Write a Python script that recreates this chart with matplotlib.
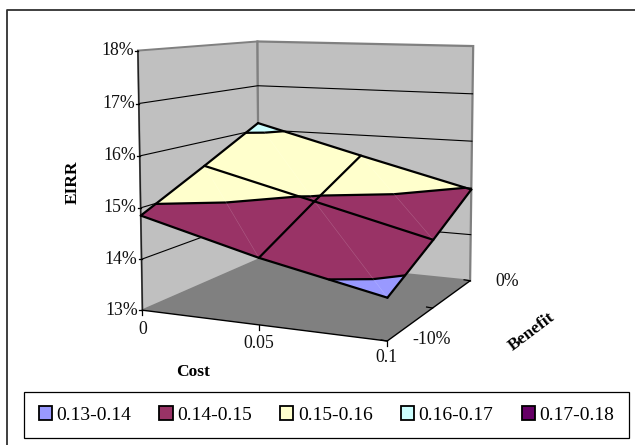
import numpy as np
import matplotlib
matplotlib.use("Agg")
import matplotlib.pyplot as plt
import matplotlib.tri as mtri
from matplotlib.patches import Polygon, Patch

plt.rcParams['font.family'] = ['Liberation Serif', 'DejaVu Serif']

# --- data -------------------------------------------------------------
cost = [0.0, 0.05, 0.1]
benefit = [-10.0, -5.0, 0.0]
# eirr[cost index][benefit index], percent
eirr = [[14.85, 15.49, 16.15],
        [14.26, 14.92, 15.55],
        [13.78, 14.35, 14.97]]
z_ticks = [13, 14, 15, 16, 17, 18]
z_labels = ['13%', '14%', '15%', '16%', '17%', '18%']
cost_labels = ['0', '0.05', '0.1']
legend_labels = ['0.13-0.14', '0.14-0.15', '0.15-0.16', '0.16-0.17', '0.17-0.18']
band_colors = ['#9999FF', '#993366', '#FFFFCC', '#CCFFFF', '#660066']

# --- camera: pinhole projection fitted to the box corners of the plot ---
box_world = np.array([[0, 0, 0], [0, 0, 1], [0, 1, 1], [0, 1, 0],
                      [1, 1, 0], [1, 1, 1], [1, 0, 0]], float)
box_pixel = np.array([[143.3, 311.7], [137.5, 50.0], [258.0, 42.0], [258.0, 258.0],
                      [470.7, 281.7], [473.0, 46.0], [386.7, 340.0]])
rows, rhs = [], []
for (a, b, c), (px, py) in zip(box_world, box_pixel):
    rows.append([a, b, c, 1, 0, 0, 0, 0, -px * a, -px * b, -px * c])
    rhs.append(px)
    rows.append([0, 0, 0, 0, a, b, c, 1, -py * a, -py * b, -py * c])
    rhs.append(py)
m = np.linalg.lstsq(np.array(rows), np.array(rhs), rcond=None)[0]
P = np.append(m, 1.0).reshape(3, 4)


def project(c, b, z):
    u = (np.asarray(c, float) - cost[0]) / (cost[-1] - cost[0])
    v = (np.asarray(b, float) - benefit[0]) / (benefit[-1] - benefit[0])
    w = (np.asarray(z, float) - z_ticks[0]) / (z_ticks[-1] - z_ticks[0])
    h = P @ np.array([u, v, w, np.ones_like(u)])
    return h[0] / h[2], h[1] / h[2]


fig = plt.figure(figsize=(6.35, 4.45), dpi=100)
ax = fig.add_axes([0, 0, 1, 1])
ax.set_xlim(0, 635)
ax.set_ylim(445, 0)
ax.axis('off')

# chart frame (only top and left fall inside the picture)
ax.plot([7, 7, 640], [450, 10, 10], color='#303030', lw=1.3, zorder=1)

cmin, cmax = cost[0], cost[-1]
bmin, bmax = benefit[0], benefit[-1]
zmin, zmax = z_ticks[0], z_ticks[-1]

# walls and floor
left = [project(cmin, bmin, zmin), project(cmin, bmin, zmax), project(cmin, bmax, zmax), project(cmin, bmax, zmin)]
back = [project(cmin, bmax, zmax), project(cmax, bmax, zmax), project(cmax, bmax, zmin), project(cmin, bmax, zmin)]
floor = [project(cmin, bmin, zmin), project(cmax, bmin, zmin), project(cmax, bmax, zmin), project(cmin, bmax, zmin)]
ax.add_patch(Polygon(left, fc='#C0C0C0', ec='#808080', lw=1.4, zorder=2))
ax.add_patch(Polygon(back, fc='#C0C0C0', ec='#808080', lw=1.6, zorder=2))
ax.add_patch(Polygon(floor, fc='#808080', ec='none', zorder=2))

# wall gridlines
for z in z_ticks[1:-1]:
    xs, ys = zip(project(cmin, bmin, z), project(cmin, bmax, z), project(cmax, bmax, z))
    ax.plot(xs, ys, color='black', lw=0.8, zorder=3)

# axis lines and ticks
x0, y0 = project(cmin, bmin, zmin)
x1, y1 = project(cmin, bmin, zmax)
ax.plot([x0, x1], [y0, y1], color='#202020', lw=1.0, zorder=3)
xs, ys = zip(project(cmin, bmin, zmin), project(cmax, bmin, zmin), project(cmax, bmax, zmin))
ax.plot(xs, ys, color='black', lw=1.0, zorder=3)
for z, label in zip(z_ticks, z_labels):
    x, y = project(cmin, bmin, z)
    ax.plot([x - 3, x], [y, y], color='black', lw=0.9, zorder=3)
    ax.text(x - 4, y, label, ha='right', va='center', fontsize=12.8, color='#111111')
for c in cost:
    x, y = project(c, bmin, zmin)
    ax.plot([x, x], [y, y + 5], color='black', lw=0.9, zorder=3)
for b in benefit:
    x, y = project(cmax, b, zmin)
    ax.plot([x, x - 6], [y, y - 1], color='black', lw=0.9, zorder=3)

cost_label_pos = [(143, 329), (259, 343), (386, 357)]
for (x, y), label in zip(cost_label_pos, cost_labels):
    ax.text(x, y, label, ha='center', va='center', fontsize=12.8, color='#111111')
ax.text(431.7, 340, '-10%', ha='center', va='center', fontsize=12.8, color='#111111')
ax.text(507, 282, '0%', ha='center', va='center', fontsize=12.8, color='#111111')
ax.text(73, 182, 'EIRR', rotation=90, ha='center', va='center', fontsize=12.5, fontweight='bold')
ax.text(193, 372, 'Cost', ha='center', va='center', fontsize=12.5, fontweight='bold')
ax.text(532, 332, 'Benefit', rotation=37, rotation_mode='anchor', ha='center', va='center',
        fontsize=12.5, fontweight='bold')

# surface
grid_c, grid_b = np.meshgrid(cost, benefit, indexing='ij')
values = np.array(eirr)
gx, gy = project(grid_c.ravel(), grid_b.ravel(), values.ravel())
gx_2d, gy_2d = gx.reshape(3, 3), gy.reshape(3, 3)
idx = lambda i, j: 3 * i + j
triangles = []
for i in range(2):
    for j in range(2):
        # diagonal runs from (i, j+1) to (i+1, j)
        triangles.append([idx(i, j), idx(i + 1, j), idx(i, j + 1)])
        triangles.append([idx(i + 1, j), idx(i + 1, j + 1), idx(i, j + 1)])
tri = mtri.Triangulation(gx, gy, triangles)
ax.tricontourf(tri, values.ravel(), levels=z_ticks, colors=band_colors, zorder=4)
ax.tricontour(tri, values.ravel(), levels=z_ticks, colors='black', linewidths=1.6, zorder=5)
# faint mesh seams
for a, b_ in [(idx(i, j + 1), idx(i + 1, j)) for i in range(2) for j in range(2)]:
    ax.plot([gx[a], gx[b_]], [gy[a], gy[b_]], color='white', lw=0.4, alpha=0.2, zorder=5)
# mesh lines
for i in range(3):
    ax.plot(gx_2d[i], gy_2d[i], color='black', lw=1.6, zorder=6, solid_capstyle='round')
    ax.plot(gx_2d[:, i], gy_2d[:, i], color='black', lw=1.6, zorder=6, solid_capstyle='round')

# legend
handles = [Patch(facecolor=col, edgecolor='black', linewidth=1.3) for col in band_colors]
leg = ax.legend(handles, legend_labels, ncol=5, loc='center',
                bbox_to_anchor=(326.5, 415), bbox_transform=ax.transData,
                fontsize=14, frameon=True, fancybox=False, edgecolor='black',
                framealpha=1, borderpad=0.75, handlelength=0.67, handleheight=0.67,
                handletextpad=0.25, columnspacing=1.44, labelspacing=0, borderaxespad=0)
leg.get_frame().set_linewidth(0.9)
leg.set_zorder(8)

fig.savefig('out.png', dpi=100)
